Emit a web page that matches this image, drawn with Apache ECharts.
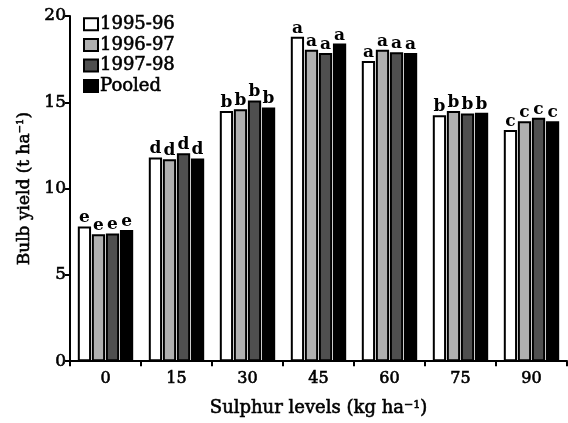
<!DOCTYPE html>
<html><head><meta charset="utf-8">
<script src="https://cdn.jsdelivr.net/npm/echarts@6/dist/echarts.min.js"></script>
<style>html,body{margin:0;padding:0;background:#fff}#c{width:568px;height:423px}</style>
</head><body><div id="c"></div>
<script>
const categories = ['0','15','30','45','60','75','90'];
const seriesNames = ['1995-96','1996-97','1997-98','Pooled'];
const y1995 = [7.8, 11.8, 14.5, 18.8, 17.4, 14.25, 13.4];
const y1996 = [7.35, 11.7, 14.6, 18.05, 18.05, 14.5, 13.9];
const y1997 = [7.4, 12.05, 15.1, 17.85, 17.9, 14.35, 14.1];
const yPooled = [7.6, 11.75, 14.7, 18.4, 17.85, 14.4, 13.9];
const letters1995 = ['e','d','b','a','a','b','c'];
const letters1996 = ['e','d','b','a','a','b','c'];
const letters1997 = ['e','d','b','a','a','b','c'];
const lettersPooled = ['e','d','b','a','a','b','c'];
const yTicks = [0,5,10,15,20];

const colors = ['#ffffff','#b0b0b0','#4f4f4f','#000000'];
const values = [y1995, y1996, y1997, yPooled];
const letters = [letters1995, letters1996, letters1997, lettersPooled];
const serif = '"DejaVu Serif", "Liberation Serif", serif';
const thick = {textBorderColor: '#000', textBorderWidth: 0.6};

const chart = echarts.init(document.getElementById('c'), null, {renderer:'canvas'});
chart.setOption({
  animation: false,
  backgroundColor: '#fff',
  grid: {left: 70, right: 1, top: 16, bottom: 57},
  legend: {
    orient: 'vertical', left: 83, top: 15, padding: 0, itemWidth: 14, itemHeight: 12, itemGap: 2,
    icon: 'rect',
    textStyle: Object.assign({fontFamily: serif, fontSize: 18, lineHeight: 18, color: '#000', padding: [0,0,0,-3]}, thick),
    data: seriesNames
  },
  xAxis: {
    type: 'category', data: categories,
    name: 'Sulphur levels (kg ha{sup|\u22121})', nameLocation: 'middle', nameGap: 38,
    nameTextStyle: Object.assign({fontFamily: serif, fontSize: 18, color: '#000',
      rich: {sup: Object.assign({fontFamily: serif, fontSize: 11, color: '#000', verticalAlign: 'top', padding:[0,0,8,0]}, thick)}}, thick),
    axisLine: {lineStyle: {color: '#000', width: 2}},
    axisTick: {show: true, length: 5, lineStyle: {color: '#000', width: 2}},
    axisLabel: Object.assign({fontFamily: serif, fontSize: 16, color: '#000', margin: 10}, thick)
  },
  yAxis: {
    type: 'value', min: 0, max: 20, interval: 5,
    name: 'Bulb yield (t ha{sup|\u22121})', nameLocation: 'middle', nameGap: 36, nameRotate: 90,
    nameTextStyle: Object.assign({fontFamily: serif, fontSize: 17, color: '#000',
      rich: {sup: Object.assign({fontFamily: serif, fontSize: 10, color: '#000', verticalAlign: 'top', padding:[0,0,8,0]}, thick)}}, thick),
    axisLine: {show: true, lineStyle: {color: '#000', width: 2}},
    axisTick: {show: true, length: 5, lineStyle: {color: '#000', width: 2}},
    axisLabel: Object.assign({fontFamily: serif, fontSize: 17, color: '#000', margin: 4,
      formatter: v => yTicks.includes(v) ? String(v) : ''}, thick),
    splitLine: {show: false}
  },
  series: seriesNames.map((n, i) => ({
    name: n, type: 'bar',
    data: values[i],
    barGap: '6%', barCategoryGap: '22%',
    itemStyle: {color: colors[i], borderColor: '#000', borderWidth: 2},
    label: {show: true, position: 'top', distance: 0,
      fontFamily: serif, fontSize: 17, fontWeight: 'bold', color: '#000',
      formatter: p => letters[i][p.dataIndex]}
  }))
});
</script></body></html>
